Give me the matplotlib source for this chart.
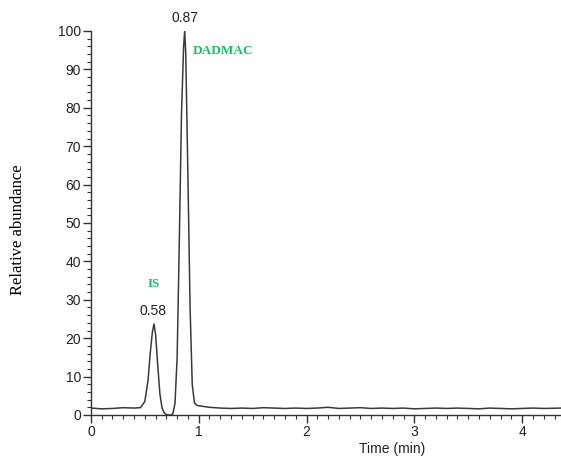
import numpy as np
import matplotlib.pyplot as plt
from matplotlib.ticker import MultipleLocator

# chromatogram trace
time_min = [0.00, 0.10, 0.20, 0.30, 0.40, 0.46, 0.50, 0.53, 0.55, 0.57, 0.585,
            0.60, 0.62, 0.64, 0.66, 0.68, 0.70, 0.72, 0.74, 0.76, 0.78, 0.80,
            0.82, 0.84, 0.86, 0.87, 0.88, 0.90, 0.92, 0.94, 0.96, 0.98, 1.00,
            1.10, 1.20, 1.30, 1.40, 1.50, 1.60, 1.70, 1.80, 1.90, 2.00, 2.10,
            2.20, 2.30, 2.40, 2.50, 2.60, 2.70, 2.80, 2.90, 3.00, 3.10, 3.20,
            3.30, 3.40, 3.50, 3.60, 3.70, 3.80, 3.90, 4.00, 4.10, 4.20, 4.36]
abundance = [1.8, 1.6, 1.7, 1.9, 1.8, 1.9, 3.5, 9.0, 16.0, 21.5, 23.7,
             21.0, 13.0, 5.5, 1.8, 0.6, 0.1, 0.0, 0.0, 0.3, 3.0, 15.0,
             45.0, 78.0, 96.0, 100.0, 94.0, 62.0, 28.0, 8.0, 3.2, 2.6, 2.4,
             2.0, 1.8, 1.7, 1.8, 1.7, 1.9, 1.8, 1.7, 1.8, 1.7, 1.8,
             2.0, 1.7, 1.8, 1.9, 1.7, 1.8, 1.7, 1.8, 1.6, 1.7, 1.8,
             1.7, 1.8, 1.7, 1.6, 1.8, 1.7, 1.6, 1.7, 1.8, 1.7, 1.8]

peak_times = [0.58, 0.87]
peak_heights = [23.7, 100.0]
peak_names = ['IS', 'DADMAC']

fig = plt.figure(figsize=(5.61, 4.59), dpi=100)
ax = fig.add_axes([0.162, 0.0959, 0.838, 0.8366])
ax.plot(time_min, abundance, color='#3a3a3a', lw=1.1)

ax.set_xlim(0, 4.36)
ax.set_ylim(0, 100)
for s in ['top', 'right']:
	ax.spines[s].set_visible(False)
for s in ['left', 'bottom']:
	ax.spines[s].set_color('#333333')
	ax.spines[s].set_linewidth(1.0)

ax.xaxis.set_major_locator(MultipleLocator(1))
ax.xaxis.set_minor_locator(MultipleLocator(0.1))
ax.yaxis.set_major_locator(MultipleLocator(10))
ax.yaxis.set_minor_locator(MultipleLocator(2))
ax.tick_params(which='major', length=6, width=1, color='#333333', labelsize=10,
               labelcolor='#222222', pad=1)
ax.tick_params(which='minor', length=3, width=0.8, color='#333333')
for lab in ax.get_xticklabels() + ax.get_yticklabels():
	lab.set_family('Liberation Sans')

ax.set_xlabel('Time (min)', family='Liberation Sans', fontsize=10, color='#222222')
ax.xaxis.set_label_coords(0.64, -0.07)
fig.text(0.032, 0.5, 'Relative abundance', rotation=90, ha='center', va='center',
         family='Liberation Serif', fontsize=12)

# retention-time labels over the peaks
for t, h in zip(peak_times, peak_heights):
	ax.text(t, h + 1.5, '%.2f' % t, ha='center', va='bottom', fontsize=10,
	        family='Liberation Sans', color='#222222', clip_on=False)

green = '#17c35e'
ax.text(peak_times[0], 34, peak_names[0], ha='center', va='center', fontsize=9.5,
        family='Liberation Serif', fontweight='bold', color=green)
ax.text(0.945, 94.8, peak_names[1], ha='left', va='center', fontsize=9.5,
        family='Liberation Serif', fontweight='bold', color=green)

fig.savefig('out.png', dpi=100)
